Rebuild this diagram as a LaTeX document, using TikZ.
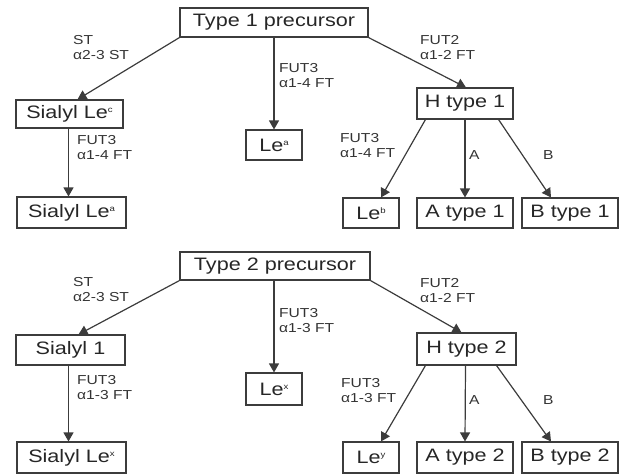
\documentclass[tikz,border=0pt]{standalone}
\usepackage{fontspec}
\setmainfont{Liberation Sans}[FakeStretch=1.2]
\usetikzlibrary{arrows.meta}
\definecolor{linegray}{RGB}{60,60,60}
\newcommand{\leexp}[1]{Le\raisebox{6pt}{\fontsize{8}{8}\selectfont #1}}

\begin{document}
\begin{tikzpicture}[x=1pt,y=-1pt,
  box/.style={draw=linegray,line width=1.1pt,inner sep=0pt,minimum height=30pt,font=\fontsize{18}{20}\selectfont,text=black!85},
  lbl/.style={anchor=west,inner sep=0pt,align=left,font=\fontsize{13}{15}\selectfont,text=black!80},
  arr/.style={draw=linegray,line width=1.2pt,-{Triangle[length=9pt,width=10pt]}}]
\useasboundingbox (0,0) rectangle (626,475);
% type 1 chain
\node[box,minimum width=188pt,minimum height=29pt] (t1) at (274,22.5) {Type 1 precursor};
\node[box,minimum width=107pt,minimum height=28pt] (slc) at (69.5,114) {Sialyl \leexp{c}};
\node[box,minimum width=109pt,minimum height=31pt] (sla) at (71.5,212.5) {Sialyl \leexp{a}};
\node[box,minimum width=56pt] (lea) at (274,145) {\leexp{a}};
\node[box,minimum width=96pt,minimum height=31pt] (h1) at (465,103.5) {H type 1};
\node[box,minimum width=56pt] (leb) at (371,213) {\leexp{b}};
\node[box,minimum width=96pt] (a1) at (465,213) {A type 1};
\node[box,minimum width=96pt] (b1) at (570,213) {B type 1};
\draw[arr] (t1.south west) -- ([xshift=8pt]slc.north);
\draw[arr] (t1.south) -- (lea.north);
\draw[arr] (t1.south east) -- ([xshift=1pt]h1.north);
\draw[arr] ([xshift=-1pt]slc.south) -- ([xshift=-1pt]slc.south |- sla.north);
\draw[arr] ([xshift=9pt]h1.south west) -- ([xshift=10pt]leb.north);
\draw[arr] (h1.south) -- (a1.north);
\draw[arr] ([xshift=-15pt]h1.south east) -- ([xshift=-19pt]b1.north);
\node[lbl] (st1) at (73,47.5) {ST\\α2-3 ST};
\node[lbl] (fa1) at (279,75.5) {FUT3\\α1-4 FT};
\node[lbl] (fb1) at (420,47.5) {FUT2\\α1-2 FT};
\node[lbl] (fc1) at (77,147.5) {FUT3\\α1-4 FT};
\node[lbl] (fd1) at (340,146) {FUT3\\α1-4 FT};
\node[lbl] (la1) at (469,155) {A};
\node[lbl] (lb1) at (543,155) {B};
% type 2 chain
\node[box,minimum width=190pt,minimum height=28pt] (t2) at (275,266) {Type 2 precursor};
\node[box,minimum width=109pt] (s1) at (70.5,350) {Sialyl 1};
\node[box,minimum width=109pt,minimum height=31pt] (slx) at (71.5,457.5) {Sialyl \leexp{x}};
\node[box,minimum width=56pt,minimum height=32pt] (lex) at (274,389) {\leexp{x}};
\node[box,minimum width=99pt,minimum height=32pt] (h2) at (466.5,349) {H type 2};
\node[box,minimum width=56pt,minimum height=31pt] (ley) at (371,457.5) {\leexp{y}};
\node[box,minimum width=96pt,minimum height=31pt] (a2) at (465,457.5) {A type 2};
\node[box,minimum width=96pt,minimum height=31pt] (b2) at (570,457.5) {B type 2};
\draw[arr] (t2.south west) -- ([xshift=8pt]s1.north);
\draw[arr] ([xshift=-1pt]t2.south) -- ([xshift=-1pt]t2.south |- lex.north);
\draw[arr] (t2.south east) -- ([xshift=-5pt]h2.north);
\draw[arr] ([xshift=-2pt]s1.south) -- ([xshift=-2pt]s1.south |- slx.north);
\draw[arr] ([xshift=9pt]h2.south west) -- ([xshift=10pt]ley.north);
\draw[arr] ([xshift=-1pt]h2.south) -- (a2.north);
\draw[arr] ([xshift=-20pt]h2.south east) -- ([xshift=-19pt]b2.north);
\node[lbl] (st2) at (73,289.5) {ST\\α2-3 ST};
\node[lbl] (fa2) at (279,321) {FUT3\\α1-3 FT};
\node[lbl] (fb2) at (420,290.5) {FUT2\\α1-2 FT};
\node[lbl] (fc2) at (77,388) {FUT3\\α1-3 FT};
\node[lbl] (fd2) at (341,390.5) {FUT3\\α1-3 FT};
\node[lbl] (la2) at (469,400) {A};
\node[lbl] (lb2) at (543,400) {B};
\end{tikzpicture}
\end{document}
